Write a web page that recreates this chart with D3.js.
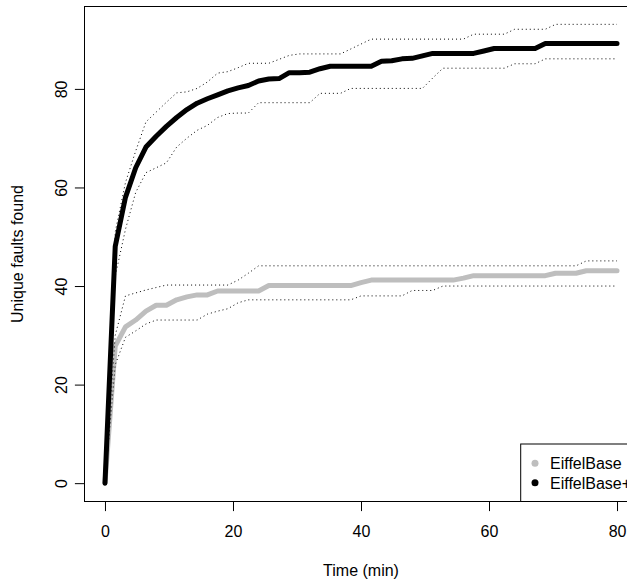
<!DOCTYPE html>
<html>
<head>
<meta charset="utf-8">
<script src="https://cdn.jsdelivr.net/npm/d3@7"></script>
<style>
    body { margin: 0; background: #FFFFFF; }
    text { font-family: "Liberation Sans", Arial, Helvetica, sans-serif; }
</style>
</head>
<body>
<svg id="plot"></svg>
<script>
//Define data
// sample times in minutes
const times = [0, 1.6, 3.2, 4.8, 6.4, 8, 9.6, 11.2, 12.8, 14.4,
    16, 17.6, 19.2, 20.8, 22.4, 24, 25.6, 27.2, 28.8, 30.4,
    32, 33.6, 35.2, 36.8, 38.4, 40, 41.6, 43.2, 44.8, 46.4,
    48, 49.6, 51.2, 52.8, 54.4, 56, 57.6, 59.2, 60.8, 62.4,
    64, 65.6, 67.2, 68.8, 70.4, 72, 73.6, 75.2, 76.8, 78.4,
    80];

// EiffelBase (grey)
const baseMean = [0, 27.8, 31.7, 33.1, 34.9, 36.1, 36.1, 37.2, 37.8, 38.2,
    38.2, 39, 39, 39, 39, 39, 40.1, 40.1, 40.1, 40.1,
    40.1, 40.1, 40.1, 40.1, 40.1, 40.7, 41.2, 41.2, 41.2, 41.2,
    41.2, 41.2, 41.2, 41.2, 41.2, 41.6, 42.1, 42.1, 42.1, 42.1,
    42.1, 42.1, 42.1, 42.1, 42.6, 42.6, 42.6, 43.1, 43.1, 43.1,
    43.1];
const baseLo = [0, 24, 29.6, 30.9, 32.3, 33.1, 33.1, 33.1, 33.1, 33.1,
    34.3, 34.9, 35.4, 36.6, 37.2, 37.2, 37.2, 37.2, 37.2, 37.2,
    37.2, 37.2, 37.2, 37.2, 37.2, 38, 38, 38, 38, 38,
    39.1, 39.1, 39.1, 40, 40, 40, 40, 40, 40, 40,
    40, 40, 40, 40, 40, 40, 40, 40, 40, 40,
    40];
const baseHi = [0, 30, 38, 38.6, 39.2, 39.7, 40.2, 40.2, 40.2, 40.2,
    40.2, 40.2, 40.2, 41.2, 42.6, 44.1, 44.1, 44.1, 44.1, 44.1,
    44.1, 44.1, 44.1, 44.1, 44.1, 44.1, 44.1, 44.1, 44.1, 44.1,
    44.1, 44.1, 44.1, 44.1, 44.1, 44.1, 44.1, 44.1, 44.1, 44.1,
    44.1, 44.1, 44.1, 44.1, 44.1, 44.1, 44.1, 45.1, 45.1, 45.1,
    45.1];

// EiffelBase+ (black)
const plusMean = [0, 48, 58, 64, 68.2, 70.4, 72.4, 74.2, 75.8, 77.1,
    78, 78.8, 79.6, 80.2, 80.7, 81.6, 82, 82.1, 83.3, 83.3,
    83.4, 84.1, 84.6, 84.6, 84.6, 84.6, 84.6, 85.6, 85.7, 86.1,
    86.2, 86.7, 87.2, 87.2, 87.2, 87.2, 87.2, 87.7, 88.2, 88.2,
    88.2, 88.2, 88.2, 89.2, 89.2, 89.2, 89.2, 89.2, 89.2, 89.2,
    89.2];
const plusLo = [0, 42, 51.5, 59, 63, 64, 65, 68.2, 70, 71.6,
    72.6, 74.2, 75, 75.1, 75.1, 77.2, 77.2, 77.2, 77.2, 77.2,
    77.2, 79.1, 79.1, 79.1, 80.1, 80.1, 80.1, 80.1, 80.1, 80.1,
    80.1, 80.1, 82.2, 84.2, 84.2, 84.2, 84.2, 84.2, 84.2, 84.2,
    85.1, 85.1, 85.1, 86.1, 86.1, 86.1, 86.1, 86.1, 86.1, 86.1,
    86.1];
const plusHi = [0, 51, 61, 67.4, 73.3, 75.3, 77.3, 79.2, 79.4, 80.1,
    81.4, 83.2, 83.5, 84.3, 85.2, 85.2, 85.2, 86, 86.8, 87.1,
    87.1, 87.1, 87.1, 87.1, 88.1, 89.1, 90.1, 90.1, 90.1, 90.1,
    90.1, 90.1, 90.1, 90.1, 90.1, 90.1, 91.1, 91.1, 91.1, 91.1,
    92.1, 92.1, 92.1, 92.1, 93.1, 93.1, 93.1, 93.1, 93.1, 93.1,
    93.1];

const xTicks = [0, 20, 40, 60, 80];
const yTicks = [0, 20, 40, 60, 80];
const legendLabels = ["EiffelBase", "EiffelBase+"];
const legendColors = ["#BEBEBE", "#000000"];

let width = 627;
let height = 580;
// plot box (right side runs past the window edge)
let box = { left: 84.5, right: 637.5, top: 6.5, bottom: 501.5 };

let svg = d3.select('#plot')
    .attr('width', width)
    .attr('height', height)
    .style('background', '#FFFFFF');

let xScale = d3.scaleLinear()
    .domain([-3.2, 83.2])
    .range([box.left, box.right]);

let yScale = d3.scaleLinear()
    .domain([-3.72, 96.72])
    .range([box.bottom, box.top]);

const path = vals => d3.line()
    .x((d, i) => xScale(times[i]))
    .y(d => yScale(d))(vals);

function drawMean(vals, color) {
    svg.append('path')
        .attr('d', path(vals))
        .attr('fill', 'none')
        .attr('stroke', color)
        .attr('stroke-width', 5)
        .attr('stroke-linecap', 'round')
        .attr('stroke-linejoin', 'round');
}

function drawBound(vals) {
    svg.append('path')
        .attr('d', path(vals))
        .attr('fill', 'none')
        .attr('stroke', '#000000')
        .attr('stroke-width', 1)
        .attr('stroke-dasharray', '1,3');
}

drawMean(baseMean, legendColors[0]);
drawBound(baseLo);
drawBound(baseHi);
drawMean(plusMean, legendColors[1]);
drawBound(plusLo);
drawBound(plusHi);

// box
svg.append('rect')
    .attr('x', box.left)
    .attr('y', box.top)
    .attr('width', box.right - box.left)
    .attr('height', box.bottom - box.top)
    .attr('fill', 'none')
    .attr('stroke', '#000000')
    .attr('stroke-width', 1);

let xAxis = svg.append('g')
    .attr('transform', `translate(0, ${box.bottom})`)
    .call(d3.axisBottom(xScale).tickValues(xTicks).tickSize(9.6).tickSizeOuter(0));
xAxis.select('.domain').remove();
xAxis.attr('font-size', 16).attr('font-family', null);
xAxis.selectAll('text')
    .attr('y', 35.2)
    .attr('dy', null)
    .attr('fill', '#000000');

let yAxis = svg.append('g')
    .attr('transform', `translate(${box.left}, 0)`)
    .call(d3.axisLeft(yScale).tickValues(yTicks).tickSize(9.6).tickSizeOuter(0));
yAxis.select('.domain').remove();
yAxis.attr('font-size', 16).attr('font-family', null);
yAxis.selectAll('text')
    .attr('x', null)
    .attr('dy', null)
    .attr('text-anchor', 'middle')
    .attr('fill', '#000000')
    .attr('transform', 'translate(-17.7, 0) rotate(-90)');

svg.append('text')
    .attr('x', (box.left + box.right) / 2)
    .attr('y', 575.5)
    .attr('text-anchor', 'middle')
    .style('font-size', '16px')
    .text('Time (min)');

svg.append('text')
    .attr('transform', `translate(22.8, ${(box.top + box.bottom) / 2}) rotate(-90)`)
    .attr('text-anchor', 'middle')
    .style('font-size', '16px')
    .text('Unique faults found');

// legend, bottom right
let legend = svg.append('g')
    .attr('class', 'legend')
    .attr('transform', `translate(520.7, 444)`);

legend.append('rect')
    .attr('x', 0)
    .attr('y', 0)
    .attr('width', box.right - 520.7)
    .attr('height', box.bottom - 444)
    .attr('fill', '#FFFFFF')
    .attr('stroke', '#000000')
    .attr('stroke-width', 1);

legendLabels.forEach((label, i) => {
    legend.append('circle')
        .attr('cx', 14.3)
        .attr('cy', 19.3 + i * 19.4)
        .attr('r', 3.5)
        .attr('fill', legendColors[i]);
    legend.append('text')
        .attr('x', 29.3)
        .attr('y', 25.3 + i * 19.4)
        .style('font-size', '16px')
        .text(label);
});
</script>
</body>
</html>
